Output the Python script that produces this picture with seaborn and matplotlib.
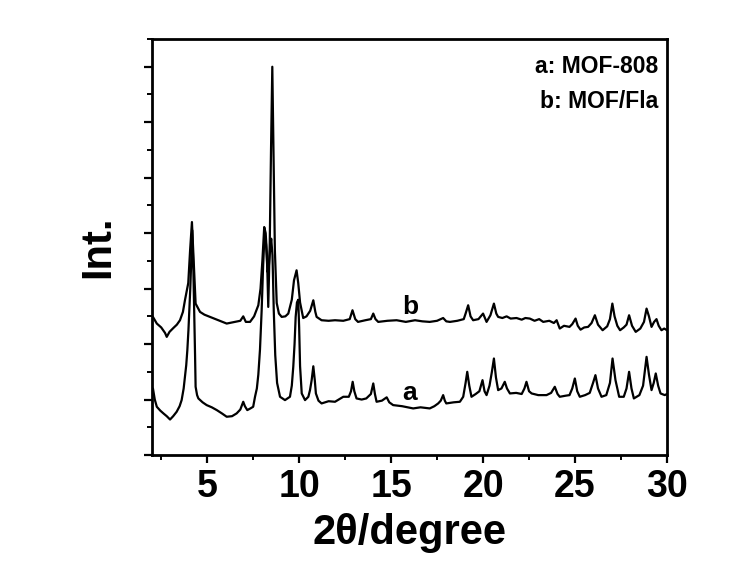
import matplotlib
matplotlib.use("Agg")
import matplotlib.pyplot as plt
from matplotlib.ticker import MultipleLocator
import seaborn as sns
import pandas as pd

# ---- data ----
two_theta_b = [2.05, 2.26, 2.50, 2.71, 2.80, 2.95, 3.16, 3.35, 3.52, 3.68, 3.79, 3.97, 4.07, 4.17,
               4.28, 4.37, 4.61, 4.85, 5.15, 5.60, 6.06, 6.50, 6.80, 6.96, 7.10, 7.33, 7.55, 7.78,
               7.90, 8.00, 8.10, 8.18, 8.25, 8.32, 8.40, 8.47, 8.54, 8.61, 8.68, 8.78, 8.90, 9.05,
               9.25, 9.41, 9.60, 9.72, 9.86, 9.95, 10.05, 10.22, 10.40, 10.60, 10.77, 10.88, 10.95,
               11.22, 11.60, 11.95, 12.40, 12.75, 12.90, 13.05, 13.20, 13.60, 13.90, 14.03, 14.15,
               14.30, 14.80, 15.30, 15.80, 16.30, 16.70, 17.10, 17.50, 17.83, 18.00, 18.20, 18.60,
               18.95, 19.05, 19.19, 19.32, 19.46, 19.75, 20.00, 20.19, 20.40, 20.59, 20.72, 20.82,
               21.05, 21.28, 21.50, 21.82, 22.10, 22.30, 22.54, 22.80, 23.05, 23.27, 23.60, 23.85,
               24.00, 24.17, 24.40, 24.70, 24.85, 25.03, 25.15, 25.30, 25.50, 25.71, 25.90, 26.08,
               26.25, 26.50, 26.75, 26.90, 27.03, 27.15, 27.30, 27.45, 27.65, 27.80, 27.94, 28.10,
               28.30, 28.55, 28.75, 28.89, 29.02, 29.16, 29.30, 29.43, 29.55, 29.70, 29.85, 30.00]
int_b = [2.49, 2.37, 2.30, 2.20, 2.13, 2.22, 2.29, 2.35, 2.43, 2.58, 2.79, 3.10, 3.69, 4.20,
         3.39, 2.73, 2.58, 2.53, 2.49, 2.43, 2.37, 2.40, 2.42, 2.50, 2.40, 2.40, 2.50, 2.70,
         3.00, 3.50, 4.11, 4.00, 3.60, 2.67, 3.80, 5.50, 7.00, 5.30, 3.69, 2.74, 2.55, 2.49,
         2.50, 2.55, 2.80, 3.15, 3.33, 3.10, 2.75, 2.47, 2.50, 2.60, 2.79, 2.58, 2.49,
         2.43, 2.42, 2.43, 2.42, 2.45, 2.61, 2.45, 2.40, 2.43, 2.45, 2.55, 2.45,
         2.40, 2.42, 2.43, 2.40, 2.43, 2.41, 2.40, 2.42, 2.47, 2.41, 2.40, 2.42,
         2.45, 2.55, 2.70, 2.50, 2.43, 2.45, 2.55, 2.40, 2.52, 2.73, 2.55, 2.49,
         2.47, 2.50, 2.46, 2.47, 2.44, 2.47, 2.46, 2.42, 2.45, 2.40, 2.42, 2.38,
         2.43, 2.28, 2.33, 2.31, 2.36, 2.46, 2.33, 2.26, 2.30, 2.31, 2.38, 2.52,
         2.35, 2.25, 2.32, 2.45, 2.73, 2.50, 2.33, 2.25, 2.30, 2.35, 2.52, 2.33,
         2.22, 2.28, 2.40, 2.64, 2.50, 2.31, 2.40, 2.45, 2.33, 2.25, 2.28, 2.25]

two_theta_a = [2.05, 2.15, 2.26, 2.45, 2.62, 2.80, 2.98, 3.15, 3.34, 3.50, 3.61, 3.72, 3.79, 3.86,
               3.92, 3.98, 4.03, 4.08, 4.12, 4.19, 4.25, 4.30, 4.34, 4.37, 4.45, 4.52, 4.75, 4.97,
               5.25, 5.52, 5.80, 6.06, 6.35, 6.60, 6.80, 6.96, 7.05, 7.18, 7.35, 7.50, 7.60, 7.70,
               7.78, 7.87, 7.96, 8.04, 8.12, 8.20, 8.28, 8.35, 8.42, 8.48, 8.55, 8.62, 8.70, 8.80,
               8.96, 9.23, 9.50, 9.60, 9.68, 9.75, 9.81, 9.88, 9.95, 10.00, 10.05, 10.14, 10.32,
               10.50, 10.59, 10.68, 10.77, 10.85, 10.91, 11.05, 11.22, 11.60, 11.95, 12.40, 12.70,
               12.82, 12.91, 13.00, 13.12, 13.40, 13.65, 13.90, 14.03, 14.12, 14.21, 14.50, 14.76,
               14.90, 15.11, 15.60, 16.20, 16.60, 17.10, 17.35, 17.56, 17.70, 17.83, 17.92, 18.00,
               18.40, 18.74, 18.92, 19.05, 19.14, 19.25, 19.37, 19.60, 19.80, 19.97, 20.08, 20.19,
               20.35, 20.48, 20.59, 20.70, 20.82, 21.00, 21.18, 21.30, 21.46, 21.80, 22.10, 22.25,
               22.36, 22.50, 22.64, 23.00, 23.45, 23.70, 23.90, 24.05, 24.17, 24.50, 24.70, 24.85,
               24.99, 25.12, 25.26, 25.55, 25.80, 25.98, 26.11, 26.25, 26.44, 26.70, 26.90, 27.04,
               27.20, 27.40, 27.65, 27.80, 27.94, 28.07, 28.20, 28.50, 28.70, 28.89, 29.02, 29.16,
               29.28, 29.39, 29.52, 29.65, 29.88, 30.00]
int_a = [1.20, 1.00, 0.87, 0.80, 0.75, 0.70, 0.64, 0.70, 0.78, 0.88, 0.99, 1.20, 1.41, 1.62,
         1.89, 2.25, 2.61, 3.00, 3.39, 4.05, 3.30, 2.49, 1.80, 1.23, 1.08, 1.02, 0.95, 0.90,
         0.86, 0.81, 0.75, 0.69, 0.70, 0.75, 0.82, 0.96, 0.88, 0.81, 0.84, 0.87, 1.05, 1.20,
         1.45, 1.90, 2.60, 3.40, 4.00, 3.80, 3.30, 3.40, 3.70, 3.90, 3.60, 2.60, 1.80, 1.30,
         1.05, 0.99, 1.05, 1.25, 1.59, 2.00, 2.49, 2.75, 2.80, 2.30, 1.60, 1.11, 0.99,
         1.05, 1.17, 1.35, 1.60, 1.35, 1.11, 0.98, 0.93, 0.97, 0.96, 1.05, 1.05,
         1.15, 1.32, 1.15, 1.02, 1.00, 1.02, 1.10, 1.29, 1.10, 0.96, 0.98, 1.04,
         0.95, 0.90, 0.88, 0.84, 0.86, 0.84, 0.88, 0.93, 0.98, 1.08, 0.98, 0.93,
         0.95, 0.96, 1.05, 1.30, 1.50, 1.25, 1.05, 1.10, 1.15, 1.35, 1.15, 1.08,
         1.25, 1.50, 1.74, 1.40, 1.17, 1.20, 1.32, 1.20, 1.11, 1.12, 1.10, 1.20,
         1.32, 1.15, 1.11, 1.08, 1.08, 1.12, 1.23, 1.10, 1.05, 1.07, 1.08, 1.20,
         1.38, 1.15, 1.05, 1.08, 1.12, 1.30, 1.44, 1.20, 1.05, 1.08, 1.30, 1.74,
         1.35, 1.05, 1.05, 1.20, 1.50, 1.20, 1.02, 1.08, 1.25, 1.77, 1.45, 1.17,
         1.30, 1.47, 1.25, 1.11, 1.08, 1.10]

x_ticks = [5, 10, 15, 20, 25, 30]
curve_labels = ["a", "b"]
legend_lines = ["a: MOF-808", "b: MOF/Fla"]

# ---- plot ----
sns.set_theme(style="ticks")
plt.rcParams['font.family'] = ['Liberation Sans', 'DejaVu Sans']
plt.rcParams['font.weight'] = 'bold'
plt.rcParams['text.color'] = 'black'
plt.rcParams['axes.labelcolor'] = 'black'
plt.rcParams['xtick.color'] = 'black'
plt.rcParams['ytick.color'] = 'black'
plt.rcParams['xtick.labelcolor'] = 'black'
plt.rcParams['ytick.labelcolor'] = 'black'

fig = plt.figure(figsize=(7.5, 5.63), dpi=100)
ax = fig.add_axes([0.2027, 0.1918, 0.6866, 0.7389])

df_a = pd.DataFrame({"x": two_theta_a, "y": int_a})
df_b = pd.DataFrame({"x": two_theta_b, "y": int_b})
sns.lineplot(data=df_a, x="x", y="y", sort=False, estimator=None, color="black", lw=1.6, ax=ax)
sns.lineplot(data=df_b, x="x", y="y", sort=False, estimator=None, color="black", lw=1.6, ax=ax)

ax.set_xlim(2, 30)
ax.set_ylim(0, 7.5)
ax.set_xticks(x_ticks)
ax.xaxis.set_minor_locator(MultipleLocator(2.5))
ax.yaxis.set_major_locator(MultipleLocator(1))
ax.yaxis.set_minor_locator(MultipleLocator(0.5))
ax.set_yticklabels([])
ax.tick_params(axis='both', which='major', direction='out', length=6, width=1.6,
               labelsize=27, pad=4, color='black', labelcolor='black')
ax.tick_params(axis='both', which='minor', direction='out', length=3.5, width=1.4, color='black')
for lab in ax.get_xticklabels():
    lab.set_fontweight('bold')
for sp in ax.spines.values():
    sp.set_visible(True)
    sp.set_linewidth(2.0)
    sp.set_color('black')

ax.set_xlabel("2θ/degree", fontsize=30, fontweight='bold', labelpad=6, color='black')
ax.set_ylabel("Int.", fontsize=30, fontweight='bold', labelpad=14, color='black')

ax.text(16.02, 1.11, curve_labels[0], fontsize=19, fontweight='bold', ha='center', va='center',
        color='black')
ax.text(16.06, 2.66, curve_labels[1], fontsize=19, fontweight='bold', ha='center', va='center',
        color='black')

ax.text(0.984, 0.933, legend_lines[0], transform=ax.transAxes, fontsize=16.5,
        fontweight='bold', ha='right', va='center', color='black')
ax.text(0.984, 0.851, legend_lines[1], transform=ax.transAxes, fontsize=16.5,
        fontweight='bold', ha='right', va='center', color='black')

fig.savefig("out.png", dpi=100)
